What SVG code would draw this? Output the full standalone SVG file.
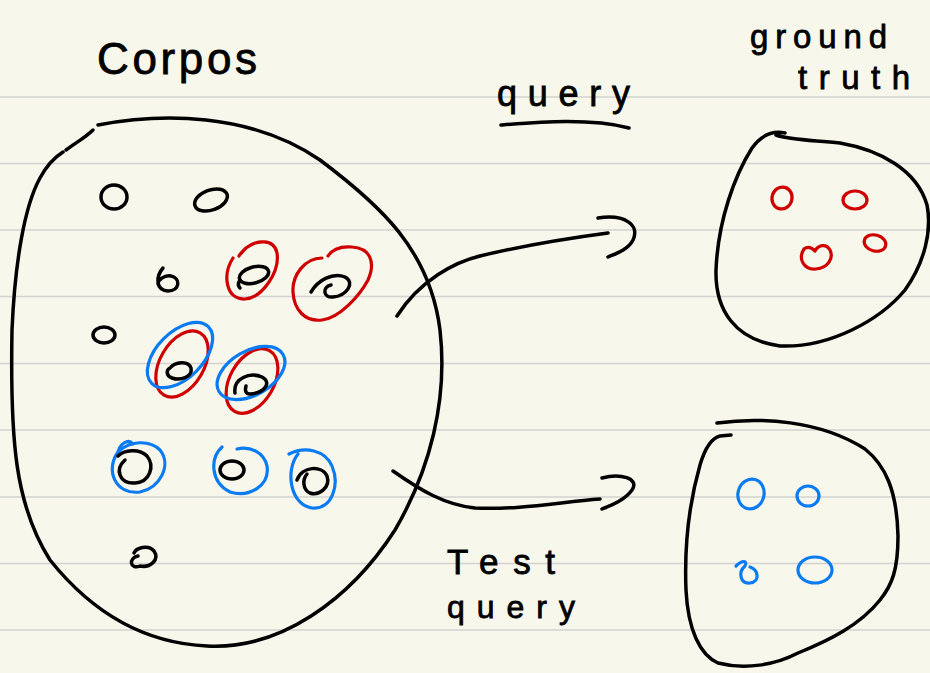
<svg xmlns="http://www.w3.org/2000/svg" width="930" height="673" viewBox="0 0 930 673">
<style>
.ink{fill:none;stroke:#000;stroke-width:3.5;stroke-linecap:round;stroke-linejoin:round}
.red{fill:none;stroke:#d00000;stroke-width:3.2;stroke-linecap:round;stroke-linejoin:round}
.blue{fill:none;stroke:#0a7bf2;stroke-width:3.2;stroke-linecap:round;stroke-linejoin:round}
.rule{stroke:#d2d2d2;stroke-width:1.6}
.hand{font-family:"Liberation Sans","DejaVu Sans",sans-serif;fill:#000;stroke:#000;stroke-width:0.8}
</style>
<rect width="930" height="673" fill="#f8f7ec"/>
<g id="ruling">
<line class="rule" x1="0" y1="97" x2="930" y2="97"/>
<line class="rule" x1="0" y1="163.5" x2="930" y2="163.5"/>
<line class="rule" x1="0" y1="230" x2="930" y2="230"/>
<line class="rule" x1="0" y1="296.5" x2="930" y2="296.5"/>
<line class="rule" x1="0" y1="363.5" x2="930" y2="363.5"/>
<line class="rule" x1="0" y1="430" x2="930" y2="430"/>
<line class="rule" x1="0" y1="497" x2="930" y2="497"/>
<line class="rule" x1="0" y1="563.5" x2="930" y2="563.5"/>
<line class="rule" x1="0" y1="630" x2="930" y2="630"/>
</g>
<g id="labels">
<text class="hand" x="97" y="74" font-size="44" textLength="160" lengthAdjust="spacing">Corpos</text>
<text class="hand" x="497" y="106" font-size="36" textLength="133" lengthAdjust="spacing">query</text>
<path class="ink" d="M501,125 C 540,122 590,118 629,128"/>
<text class="hand" x="750" y="48" font-size="33" textLength="137" lengthAdjust="spacing">ground</text>
<text class="hand" x="798" y="89" font-size="33" textLength="112" lengthAdjust="spacing">truth</text>
<text class="hand" x="447" y="574" font-size="35" textLength="108" lengthAdjust="spacing">Test</text>
<text class="hand" x="447" y="618" font-size="32" textLength="128" lengthAdjust="spacing">query</text>
</g>
<g id="corpus">
<path class="ink" d="M98,125 C 160,113 250,112 320,160 C 380,205 430,250 440,330 C 448,400 430,470 395,530 C 350,600 280,650 207,646 C 140,643 90,610 50,560 C 15,505 10,440 12,330 C 15,260 25,205 40,178 C 47,165 55,157 63,152"/>
<path class="ink" d="M66,150 C 75,143 85,138 93,130"/>
<ellipse class="ink" cx="114" cy="197" rx="13" ry="12"/>
<ellipse class="ink" cx="211" cy="200" rx="17" ry="10" transform="rotate(-20 211 200)"/>
<path class="ink" d="M163,268 C 156,276 155,290 168,291 C 180,291 181,278 171,276 C 164,275 158,280 158,284"/>
<ellipse class="ink" cx="104" cy="335" rx="11" ry="8"/>
<path class="ink" d="M138,556 C 128,558 130,570 140,566 C 150,568 160,560 154,551 C 148,544 136,548 134,553"/>
<path class="red" d="M233,258 C 222,275 226,300 245,299 C 262,298 280,272 277,253 C 274,238 256,240 246,248 C 242,252 240,254 239,256"/>
<ellipse class="ink" cx="254" cy="275" rx="15" ry="8" transform="rotate(-15 254 275)"/>
<path class="ink" d="M240,280 C 238,283 238,286 240,288"/>
<path class="red" d="M322,258 C 305,258 292,275 293,292 C 294,310 305,322 322,320 C 340,318 360,295 368,280 C 376,262 370,248 352,247 C 340,246 332,250 328,256"/>
<path class="ink" d="M311,292 C 318,280 333,272 345,277 C 356,283 346,296 333,297 C 323,298 322,287 331,285"/>
<ellipse class="red" cx="182" cy="364" rx="22" ry="36" transform="rotate(30 182 364)"/>
<ellipse class="blue" cx="180" cy="355" rx="40" ry="23" transform="rotate(-45 180 355)"/>
<path class="ink" d="M170,368 C 175,362 188,360 191,368 C 193,377 180,381 172,378 C 166,376 166,370 170,368"/>
<ellipse class="red" cx="252" cy="381" rx="22" ry="35" transform="rotate(30 252 381)"/>
<ellipse class="blue" cx="251" cy="373" rx="37" ry="22" transform="rotate(-30 251 373)"/>
<path class="ink" d="M235,393 C 233,378 250,372 262,377 C 272,382 265,393 250,394 C 245,394 245,390 246,386"/>
<path class="blue" d="M118,452 C 105,470 115,495 140,492 C 160,488 172,465 160,450 C 150,440 130,440 118,452 C 120,444 128,438 133,444"/>
<path class="ink" d="M125,460 C 114,470 120,484 135,483 C 150,482 155,466 147,456 C 139,448 124,450 118,456"/>
<path class="blue" d="M222,447 C 210,458 210,482 230,492 C 250,498 270,485 267,466 C 264,452 250,446 237,449"/>
<ellipse class="ink" cx="232" cy="470" rx="12" ry="9"/>
<path class="blue" d="M298,454 C 285,470 290,505 312,508 C 332,510 340,485 332,466 C 325,450 305,446 289,454"/>
<path class="ink" d="M297,480 C 302,466 322,465 327,476 C 331,488 318,496 310,493 C 303,490 302,480 307,474"/>
</g>
<g id="ground-truth">
<path class="ink" d="M785,133 C 770,130 760,137 752,148 C 735,175 718,220 716,270 C 715,310 735,340 780,346 C 830,348 880,320 905,290 C 925,262 932,230 927,205 C 917,170 880,150 840,143 C 810,140 790,140 776,135"/>
<ellipse class="red" cx="782" cy="198" rx="10" ry="11" transform="rotate(15 782 198)"/>
<ellipse class="red" cx="855" cy="200" rx="12" ry="9"/>
<path class="red" d="M804,249 C 798,258 803,270 816,269 C 828,268 834,258 830,250 C 826,243 818,245 815,251 C 812,248 808,246 804,249"/>
<ellipse class="red" cx="875" cy="243" rx="11" ry="8" transform="rotate(15 875 243)"/>
</g>
<g id="test-set">
<path class="ink" d="M717,423 C 760,417 820,420 865,449 C 885,465 897,490 898,536 C 898,570 892,585 880,600 C 860,625 830,640 798,653 C 775,665 745,670 718,663 C 700,655 688,630 686,590 C 684,540 690,500 700,465 C 705,448 712,438 720,436 L 731,435"/>
<ellipse class="blue" cx="751" cy="494" rx="13" ry="15" transform="rotate(15 751 494)"/>
<ellipse class="blue" cx="808" cy="496" rx="11" ry="10"/>
<path class="blue" d="M736,566 C 742,560 748,560 745,566 C 738,572 740,584 750,583 C 760,582 759,570 750,567"/>
<ellipse class="blue" cx="815" cy="570" rx="17" ry="13"/>
</g>
<g id="connectors">
<path class="ink" d="M397,316 C 420,280 455,262 480,256 C 530,244 570,238 608,233"/>
<path class="ink" d="M598,218 C 625,214 640,225 633,240 C 628,250 615,254 608,257"/>
<path class="ink" d="M393,471 C 420,490 445,505 475,508 C 520,510 560,502 600,499"/>
<path class="ink" d="M602,478 C 620,473 640,478 632,490 C 625,500 612,505 602,509"/>
</g>
</svg>
